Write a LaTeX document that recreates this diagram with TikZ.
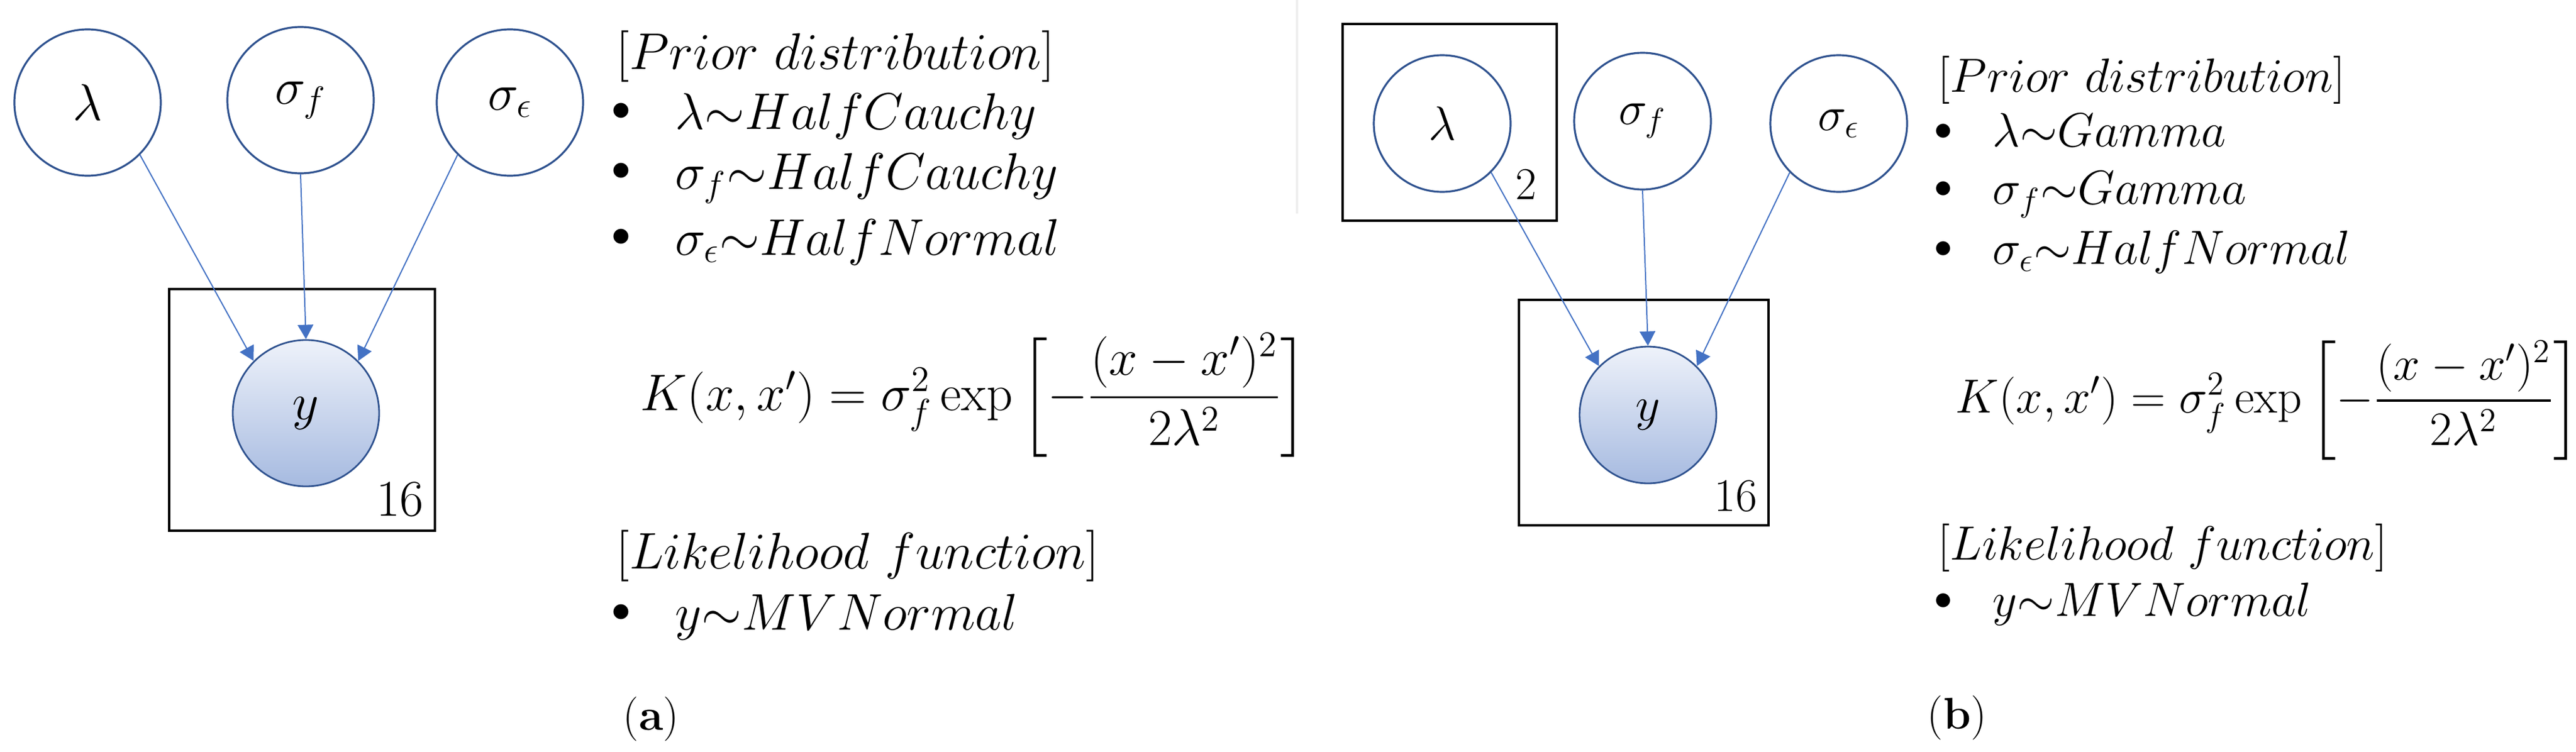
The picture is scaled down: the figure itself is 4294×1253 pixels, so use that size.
\RequirePackage{fix-cm}
\documentclass[tikz,border=0pt]{standalone}
\usepackage{amsmath}
\usetikzlibrary{arrows.meta}
\definecolor{nodeblue}{RGB}{47,82,143}
\definecolor{arrowblue}{RGB}{68,114,196}
\definecolor{ytop}{RGB}{238,242,250}
\definecolor{ybot}{RGB}{166,186,224}
\definecolor{faint}{RGB}{238,238,238}
\tikzset{
  var/.style={circle, draw=nodeblue, line width=0.8pt, inner sep=0pt, fill=white},
  obs/.style={circle, draw=nodeblue, line width=0.7pt, inner sep=0pt, top color=ytop, bottom color=ybot},
  plate/.style={draw=black, line width=1.2pt, inner sep=0pt},
  edge/.style={draw=arrowblue, line width=0.5pt, -{Triangle[length=6pt,width=6.5pt]}},
  fa/.style={font=\fontsize{21.5}{25}\selectfont},
  fb/.style={font=\fontsize{20}{24}\selectfont},
  txt/.style={anchor=base west, inner sep=0pt},
  bula/.style={anchor=center, inner sep=0pt, font=\fontsize{16}{19}\selectfont},
  bulb/.style={anchor=center, inner sep=0pt, font=\fontsize{15}{18}\selectfont},
  lab/.style={anchor=base east, inner sep=0pt},
}
\begin{document}
\begin{tikzpicture}[x=0.25pt,y=-0.25pt]
\useasboundingbox (0,0) rectangle (4294,1253);
\fill[white] (0,0) rectangle (4294,1253);

% ---------------- panel (a) ----------------
\node[plate, minimum width=110.75pt, minimum height=100.75pt] (platea) at (503.5,683.5) {};
\node[lab, font=\fontsize{21.5}{25}\selectfont] (na) at (707,860) {16};
\node[var, fa, minimum size=61pt] (la) at (146,171) {$\lambda$};
\node[var, fa, minimum size=61pt] (sfa) at (501,167) {$\sigma_f$};
\node[var, fa, minimum size=61pt] (sea) at (850,171) {$\sigma_\epsilon$};
\node[obs, fa, minimum size=61pt] (ya) at (510,689) {$y$};
\draw[edge] (la.-45) -- (ya.135);
\draw[edge] (sfa.south) -- (ya.north);
\draw[edge] (sea.-135) -- (ya.45);

\node[txt, fa] (pa) at (1027,115) {$[Prior\ distribution]$};
\node[bula] (ba1) at (1035,186) {$\bullet$};
\node[bula] (ba2) at (1035,286) {$\bullet$};
\node[bula] (ba3) at (1035,396) {$\bullet$};
\node[txt, fa] (ia1) at (1125,215) {$\lambda{\sim}HalfCauchy$};
\node[txt, fa] (ia2) at (1125,315) {$\sigma_f{\sim}HalfCauchy$};
\node[txt, fa] (ia3) at (1125,425) {$\sigma_\epsilon{\sim}HalfNormal$};
\node[txt, fa] (ka) at (1067,684) {$K(x,x') = \sigma_f^2 \exp\left[-\dfrac{(x-x')^2}{2\lambda^2}\right]$};
\node[txt, fa] (lka) at (1027,948) {$[Likelihood\ function]$};
\node[bula] (ba4) at (1035,1022) {$\bullet$};
\node[txt, fa] (ia4) at (1125,1050) {$y{\sim}MVNormal$};
\node[txt, font=\fontsize{18.5}{22}\selectfont] (capa) at (1038,1217) {(\textbf{a})};

% ---------------- panel (b) ----------------
\draw[faint, line width=0.8pt] (2162,0) -- (2162,356);
\node[plate, minimum width=89.25pt, minimum height=82pt] (platel) at (2416.5,204) {};
\node[lab, font=\fontsize{19}{23}\selectfont] (n2) at (2562,332) {2};
\node[plate, minimum width=104pt, minimum height=94pt] (plateb) at (2740,688) {};
\node[lab, font=\fontsize{19.5}{23}\selectfont] (nb) at (2930,852) {16};
\node[var, fb, minimum size=57pt] (lb) at (2404,206) {$\lambda$};
\node[var, fb, minimum size=57pt] (sfb) at (2738,202) {$\sigma_f$};
\node[var, fb, minimum size=57pt] (seb) at (3065,206) {$\sigma_\epsilon$};
\node[obs, fb, minimum size=57pt] (yb) at (2747,692) {$y$};
\draw[edge] (lb.-45) -- (yb.135);
\draw[edge] (sfb.south) -- (yb.north);
\draw[edge] (seb.-135) -- (yb.45);

\node[txt, fb] (pb) at (3230,153) {$[Prior\ distribution]$};
\node[bulb] (bb1) at (3239,220) {$\bullet$};
\node[bulb] (bb2) at (3239,316) {$\bullet$};
\node[bulb] (bb3) at (3239,416) {$\bullet$};
\node[txt, fb] (ib1) at (3321,244) {$\lambda{\sim}Gamma$};
\node[txt, fb] (ib2) at (3321,340) {$\sigma_f{\sim}Gamma$};
\node[txt, fb] (ib3) at (3321,440) {$\sigma_\epsilon{\sim}HalfNormal$};
\node[txt, fb] (kb) at (3259,688) {$K(x,x') = \sigma_f^2 \exp\left[-\dfrac{(x-x')^2}{2\lambda^2}\right]$};
\node[txt, fb] (lkb) at (3230,933) {$[Likelihood\ function]$};
\node[bulb] (bb4) at (3239,1003) {$\bullet$};
\node[txt, fb] (ib4) at (3321,1027) {$y{\sim}MVNormal$};
\node[txt, font=\fontsize{18.5}{22}\selectfont] (capb) at (3212,1215) {(\textbf{b})};
\end{tikzpicture}
\end{document}
